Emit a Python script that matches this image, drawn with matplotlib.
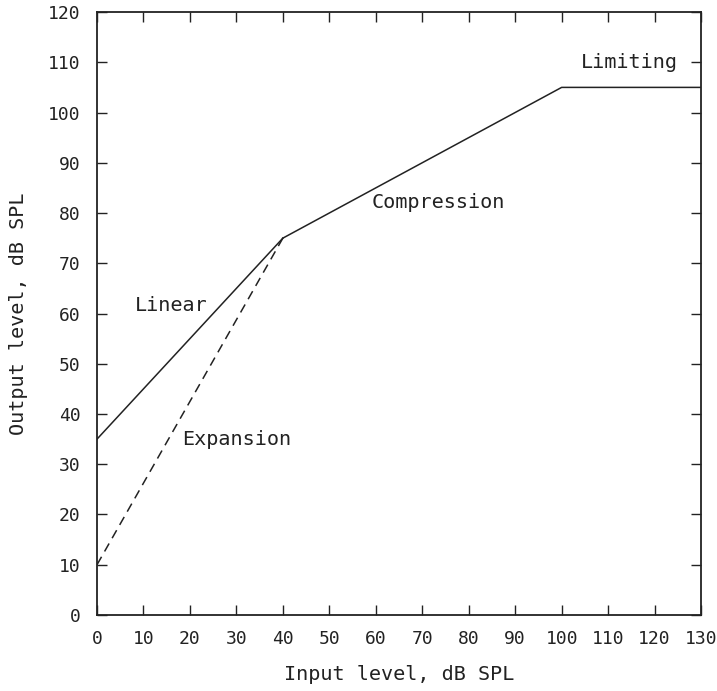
import matplotlib.pyplot as plt

# input/output curves, dB SPL
linear_in = [0, 40]
linear_out = [35, 75]
comp_in = [40, 100, 130]
comp_out = [75, 105, 105]
expand_in = [0, 40]
expand_out = [10, 75]

x_ticks = list(range(0, 131, 10))
y_ticks = list(range(0, 121, 10))

labels = [("Linear", 16, 61.5), ("Expansion", 30, 35),
          ("Compression", 73.5, 82), ("Limiting", 114.5, 110)]

plt.rcParams['font.family'] = 'DejaVu Sans Mono'
ink = '#222222'

fig = plt.figure(figsize=(7.17, 6.91), dpi=100)
ax = fig.add_axes([0.1353, 0.11, 0.8424, 0.8726])

ax.plot(linear_in, linear_out, color=ink, lw=1.1)
ax.plot(comp_in, comp_out, color=ink, lw=1.1)
ax.plot(expand_in, expand_out, color=ink, lw=1.1, linestyle=(0, (6, 4)))

for txt, x, y in labels:
    ax.text(x, y, txt, ha='center', va='center', fontsize=14.5, color=ink)

ax.set_xlim(0, 130)
ax.set_ylim(0, 120)
ax.set_xticks(x_ticks)
ax.set_yticks(y_ticks)
ax.tick_params(direction='in', length=7, width=1, top=True, right=True,
               labelsize=13, colors=ink)
ax.tick_params(axis='y', pad=12)
ax.tick_params(axis='x', pad=11)
for s in ax.spines.values():
    s.set_linewidth(1.3)
    s.set_color(ink)

ax.set_xlabel('Input level, dB SPL', fontsize=14.5, color=ink, labelpad=12)
ax.set_ylabel('Output level, dB SPL', fontsize=14.5, color=ink, labelpad=14)

fig.savefig('out.png', dpi=100)
